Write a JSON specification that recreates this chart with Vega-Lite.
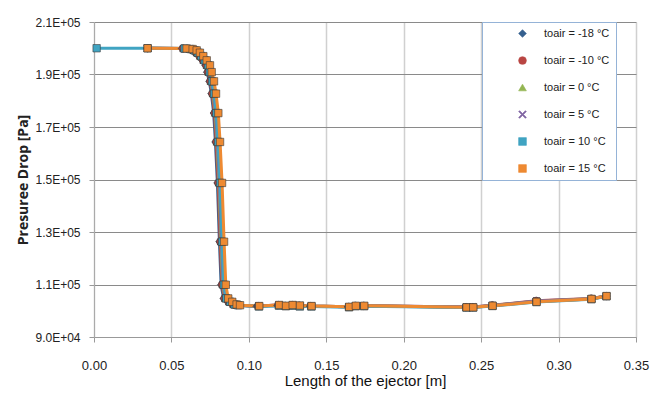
{
  "$schema": "https://vega.github.io/schema/vega-lite/v6.json",
  "width": 542,
  "height": 315,
  "autosize": "none",
  "padding": {"left": 94, "top": 22, "right": 16, "bottom": 69},
  "background": "white",
  "config": {"view": {"stroke": null}, "font": "Liberation Sans"},
  "data": {"values": [
    {"t":"toair = -18 °C","x":0.0346,"y":200000},
    {"t":"toair = -18 °C","x":0.0568,"y":199900},
    {"t":"toair = -18 °C","x":0.0607,"y":199700},
    {"t":"toair = -18 °C","x":0.0633,"y":199200},
    {"t":"toair = -18 °C","x":0.0654,"y":198300},
    {"t":"toair = -18 °C","x":0.0676,"y":197000},
    {"t":"toair = -18 °C","x":0.0698,"y":195400},
    {"t":"toair = -18 °C","x":0.0719,"y":193500},
    {"t":"toair = -18 °C","x":0.0730,"y":190900},
    {"t":"toair = -18 °C","x":0.0745,"y":187400},
    {"t":"toair = -18 °C","x":0.0758,"y":182700},
    {"t":"toair = -18 °C","x":0.0773,"y":175300},
    {"t":"toair = -18 °C","x":0.0784,"y":164300},
    {"t":"toair = -18 °C","x":0.0797,"y":148700},
    {"t":"toair = -18 °C","x":0.0810,"y":126300},
    {"t":"toair = -18 °C","x":0.0821,"y":109900},
    {"t":"toair = -18 °C","x":0.0837,"y":104700},
    {"t":"toair = -18 °C","x":0.0863,"y":103400},
    {"t":"toair = -18 °C","x":0.0891,"y":102400},
    {"t":"toair = -18 °C","x":0.0913,"y":102100},
    {"t":"toair = -18 °C","x":0.1050,"y":101700},
    {"t":"toair = -18 °C","x":0.1185,"y":102000},
    {"t":"toair = -18 °C","x":0.1230,"y":101800},
    {"t":"toair = -18 °C","x":0.1275,"y":102000},
    {"t":"toair = -18 °C","x":0.1320,"y":101900},
    {"t":"toair = -18 °C","x":0.1395,"y":101700},
    {"t":"toair = -18 °C","x":0.1640,"y":101500},
    {"t":"toair = -18 °C","x":0.1685,"y":101800},
    {"t":"toair = -18 °C","x":0.1740,"y":101800},
    {"t":"toair = -18 °C","x":0.2400,"y":101300},
    {"t":"toair = -18 °C","x":0.2445,"y":101300},
    {"t":"toair = -18 °C","x":0.2570,"y":101900},
    {"t":"toair = -18 °C","x":0.2855,"y":103500},
    {"t":"toair = -18 °C","x":0.3210,"y":104500},
    {"t":"toair = -18 °C","x":0.3305,"y":105500},

    {"t":"toair = -10 °C","x":0.0346,"y":200000},
    {"t":"toair = -10 °C","x":0.0573,"y":199900},
    {"t":"toair = -10 °C","x":0.0612,"y":199700},
    {"t":"toair = -10 °C","x":0.0638,"y":199200},
    {"t":"toair = -10 °C","x":0.0659,"y":198300},
    {"t":"toair = -10 °C","x":0.0681,"y":197000},
    {"t":"toair = -10 °C","x":0.0703,"y":195400},
    {"t":"toair = -10 °C","x":0.0724,"y":193500},
    {"t":"toair = -10 °C","x":0.0735,"y":190900},
    {"t":"toair = -10 °C","x":0.0750,"y":187400},
    {"t":"toair = -10 °C","x":0.0763,"y":182700},
    {"t":"toair = -10 °C","x":0.0778,"y":175300},
    {"t":"toair = -10 °C","x":0.0789,"y":164300},
    {"t":"toair = -10 °C","x":0.0802,"y":148700},
    {"t":"toair = -10 °C","x":0.0815,"y":126300},
    {"t":"toair = -10 °C","x":0.0826,"y":109900},
    {"t":"toair = -10 °C","x":0.0842,"y":104700},
    {"t":"toair = -10 °C","x":0.0868,"y":103400},
    {"t":"toair = -10 °C","x":0.0896,"y":102400},
    {"t":"toair = -10 °C","x":0.0918,"y":102100},
    {"t":"toair = -10 °C","x":0.1060,"y":101800},
    {"t":"toair = -10 °C","x":0.1190,"y":102200},
    {"t":"toair = -10 °C","x":0.1235,"y":101900},
    {"t":"toair = -10 °C","x":0.1280,"y":102200},
    {"t":"toair = -10 °C","x":0.1325,"y":102000},
    {"t":"toair = -10 °C","x":0.1400,"y":101800},
    {"t":"toair = -10 °C","x":0.1645,"y":101500},
    {"t":"toair = -10 °C","x":0.1688,"y":101900},
    {"t":"toair = -10 °C","x":0.1742,"y":101900},
    {"t":"toair = -10 °C","x":0.2403,"y":101400},
    {"t":"toair = -10 °C","x":0.2447,"y":101400},
    {"t":"toair = -10 °C","x":0.2572,"y":102100},
    {"t":"toair = -10 °C","x":0.2856,"y":103800},
    {"t":"toair = -10 °C","x":0.3211,"y":104700},
    {"t":"toair = -10 °C","x":0.3308,"y":105600},

    {"t":"toair = 0 °C","x":0.0346,"y":200000},
    {"t":"toair = 0 °C","x":0.0578,"y":199900},
    {"t":"toair = 0 °C","x":0.0617,"y":199700},
    {"t":"toair = 0 °C","x":0.0643,"y":199200},
    {"t":"toair = 0 °C","x":0.0664,"y":198300},
    {"t":"toair = 0 °C","x":0.0686,"y":197000},
    {"t":"toair = 0 °C","x":0.0708,"y":195400},
    {"t":"toair = 0 °C","x":0.0729,"y":193500},
    {"t":"toair = 0 °C","x":0.0740,"y":190900},
    {"t":"toair = 0 °C","x":0.0755,"y":187400},
    {"t":"toair = 0 °C","x":0.0768,"y":182700},
    {"t":"toair = 0 °C","x":0.0783,"y":175300},
    {"t":"toair = 0 °C","x":0.0794,"y":164300},
    {"t":"toair = 0 °C","x":0.0807,"y":148700},
    {"t":"toair = 0 °C","x":0.0820,"y":126300},
    {"t":"toair = 0 °C","x":0.0831,"y":109900},
    {"t":"toair = 0 °C","x":0.0847,"y":104700},
    {"t":"toair = 0 °C","x":0.0873,"y":103400},
    {"t":"toair = 0 °C","x":0.0901,"y":102400},
    {"t":"toair = 0 °C","x":0.0923,"y":102100},
    {"t":"toair = 0 °C","x":0.1062,"y":101800},
    {"t":"toair = 0 °C","x":0.1192,"y":102100},
    {"t":"toair = 0 °C","x":0.1236,"y":101900},
    {"t":"toair = 0 °C","x":0.1280,"y":102100},
    {"t":"toair = 0 °C","x":0.1327,"y":102000},
    {"t":"toair = 0 °C","x":0.1402,"y":101800},
    {"t":"toair = 0 °C","x":0.1646,"y":101500},
    {"t":"toair = 0 °C","x":0.1689,"y":101900},
    {"t":"toair = 0 °C","x":0.1743,"y":101900},
    {"t":"toair = 0 °C","x":0.2404,"y":101300},
    {"t":"toair = 0 °C","x":0.2448,"y":101300},
    {"t":"toair = 0 °C","x":0.2573,"y":102000},
    {"t":"toair = 0 °C","x":0.2857,"y":103600},
    {"t":"toair = 0 °C","x":0.3212,"y":104600},
    {"t":"toair = 0 °C","x":0.3309,"y":105600},

    {"t":"toair = 5 °C","x":0.0346,"y":200000},
    {"t":"toair = 5 °C","x":0.0581,"y":199900},
    {"t":"toair = 5 °C","x":0.0620,"y":199700},
    {"t":"toair = 5 °C","x":0.0646,"y":199200},
    {"t":"toair = 5 °C","x":0.0667,"y":198300},
    {"t":"toair = 5 °C","x":0.0689,"y":197000},
    {"t":"toair = 5 °C","x":0.0711,"y":195400},
    {"t":"toair = 5 °C","x":0.0732,"y":193500},
    {"t":"toair = 5 °C","x":0.0743,"y":190900},
    {"t":"toair = 5 °C","x":0.0758,"y":187400},
    {"t":"toair = 5 °C","x":0.0771,"y":182700},
    {"t":"toair = 5 °C","x":0.0786,"y":175300},
    {"t":"toair = 5 °C","x":0.0797,"y":164300},
    {"t":"toair = 5 °C","x":0.0810,"y":148700},
    {"t":"toair = 5 °C","x":0.0823,"y":126300},
    {"t":"toair = 5 °C","x":0.0834,"y":109900},
    {"t":"toair = 5 °C","x":0.0850,"y":104700},
    {"t":"toair = 5 °C","x":0.0876,"y":103400},
    {"t":"toair = 5 °C","x":0.0904,"y":102400},
    {"t":"toair = 5 °C","x":0.0926,"y":102100},
    {"t":"toair = 5 °C","x":0.1064,"y":101800},
    {"t":"toair = 5 °C","x":0.1194,"y":102200},
    {"t":"toair = 5 °C","x":0.1238,"y":101900},
    {"t":"toair = 5 °C","x":0.1282,"y":102200},
    {"t":"toair = 5 °C","x":0.1328,"y":102000},
    {"t":"toair = 5 °C","x":0.1403,"y":101800},
    {"t":"toair = 5 °C","x":0.1647,"y":101500},
    {"t":"toair = 5 °C","x":0.1690,"y":101900},
    {"t":"toair = 5 °C","x":0.1744,"y":101900},
    {"t":"toair = 5 °C","x":0.2405,"y":101400},
    {"t":"toair = 5 °C","x":0.2448,"y":101400},
    {"t":"toair = 5 °C","x":0.2573,"y":102000},
    {"t":"toair = 5 °C","x":0.2857,"y":103700},
    {"t":"toair = 5 °C","x":0.3212,"y":104600},
    {"t":"toair = 5 °C","x":0.3309,"y":105600},

    {"t":"toair = 10 °C","x":0.0017,"y":200000},
    {"t":"toair = 10 °C","x":0.0346,"y":200000},
    {"t":"toair = 10 °C","x":0.0585,"y":199900},
    {"t":"toair = 10 °C","x":0.0624,"y":199700},
    {"t":"toair = 10 °C","x":0.0650,"y":199200},
    {"t":"toair = 10 °C","x":0.0671,"y":198300},
    {"t":"toair = 10 °C","x":0.0693,"y":197000},
    {"t":"toair = 10 °C","x":0.0715,"y":195400},
    {"t":"toair = 10 °C","x":0.0736,"y":193500},
    {"t":"toair = 10 °C","x":0.0747,"y":190900},
    {"t":"toair = 10 °C","x":0.0762,"y":187400},
    {"t":"toair = 10 °C","x":0.0775,"y":182700},
    {"t":"toair = 10 °C","x":0.0790,"y":175300},
    {"t":"toair = 10 °C","x":0.0801,"y":164300},
    {"t":"toair = 10 °C","x":0.0814,"y":148700},
    {"t":"toair = 10 °C","x":0.0827,"y":126300},
    {"t":"toair = 10 °C","x":0.0838,"y":109900},
    {"t":"toair = 10 °C","x":0.0854,"y":104700},
    {"t":"toair = 10 °C","x":0.0880,"y":103400},
    {"t":"toair = 10 °C","x":0.0908,"y":102400},
    {"t":"toair = 10 °C","x":0.0930,"y":102100},
    {"t":"toair = 10 °C","x":0.1065,"y":101600},
    {"t":"toair = 10 °C","x":0.1195,"y":101900},
    {"t":"toair = 10 °C","x":0.1239,"y":101700},
    {"t":"toair = 10 °C","x":0.1282,"y":101900},
    {"t":"toair = 10 °C","x":0.1329,"y":101600},
    {"t":"toair = 10 °C","x":0.1404,"y":101600},
    {"t":"toair = 10 °C","x":0.1647,"y":101300},
    {"t":"toair = 10 °C","x":0.1690,"y":101700},
    {"t":"toair = 10 °C","x":0.1744,"y":101700},
    {"t":"toair = 10 °C","x":0.2405,"y":101200},
    {"t":"toair = 10 °C","x":0.2448,"y":101200},
    {"t":"toair = 10 °C","x":0.2573,"y":101800},
    {"t":"toair = 10 °C","x":0.2857,"y":103300},
    {"t":"toair = 10 °C","x":0.3212,"y":104400},
    {"t":"toair = 10 °C","x":0.3309,"y":105500},

    {"t":"toair = 15 °C","x":0.0346,"y":200000},
    {"t":"toair = 15 °C","x":0.0598,"y":199900},
    {"t":"toair = 15 °C","x":0.0637,"y":199700},
    {"t":"toair = 15 °C","x":0.0663,"y":199200},
    {"t":"toair = 15 °C","x":0.0684,"y":198300},
    {"t":"toair = 15 °C","x":0.0706,"y":197000},
    {"t":"toair = 15 °C","x":0.0728,"y":195400},
    {"t":"toair = 15 °C","x":0.0749,"y":193500},
    {"t":"toair = 15 °C","x":0.0760,"y":190900},
    {"t":"toair = 15 °C","x":0.0775,"y":187400},
    {"t":"toair = 15 °C","x":0.0788,"y":182700},
    {"t":"toair = 15 °C","x":0.0803,"y":175300},
    {"t":"toair = 15 °C","x":0.0814,"y":164300},
    {"t":"toair = 15 °C","x":0.0827,"y":148700},
    {"t":"toair = 15 °C","x":0.0840,"y":126300},
    {"t":"toair = 15 °C","x":0.0851,"y":109900},
    {"t":"toair = 15 °C","x":0.0867,"y":104700},
    {"t":"toair = 15 °C","x":0.0893,"y":103400},
    {"t":"toair = 15 °C","x":0.0921,"y":102400},
    {"t":"toair = 15 °C","x":0.0943,"y":102100},
    {"t":"toair = 15 °C","x":0.1067,"y":101800},
    {"t":"toair = 15 °C","x":0.1196,"y":102200},
    {"t":"toair = 15 °C","x":0.1240,"y":101900},
    {"t":"toair = 15 °C","x":0.1283,"y":102200},
    {"t":"toair = 15 °C","x":0.1330,"y":102000},
    {"t":"toair = 15 °C","x":0.1405,"y":101800},
    {"t":"toair = 15 °C","x":0.1648,"y":101500},
    {"t":"toair = 15 °C","x":0.1691,"y":101900},
    {"t":"toair = 15 °C","x":0.1745,"y":101900},
    {"t":"toair = 15 °C","x":0.2406,"y":101300},
    {"t":"toair = 15 °C","x":0.2449,"y":101300},
    {"t":"toair = 15 °C","x":0.2574,"y":101900},
    {"t":"toair = 15 °C","x":0.2858,"y":103400},
    {"t":"toair = 15 °C","x":0.3213,"y":104500},
    {"t":"toair = 15 °C","x":0.3310,"y":105600}
  ]},
  "encoding": {
    "x": {
      "field": "x", "type": "quantitative",
      "scale": {"domain": [0, 0.35], "nice": false, "zero": false},
      "axis": {
        "title": "Length of the ejector [m]",
        "values": [0, 0.05, 0.1, 0.15, 0.2, 0.25, 0.3, 0.35],
        "format": ".2f",
        "labelFlush": false, "labelOverlap": false,
        "labelFont": "Liberation Sans", "labelFontSize": 13, "labelColor": "#222",
        "labelPadding": 17,
        "tickSize": 5, "tickColor": "#999",
        "domainColor": "#999",
        "gridColor": "#d0d0d0", "gridWidth": 1.5,
        "titleFont": "Liberation Sans", "titleFontSize": 15, "titleFontWeight": "normal",
        "titleColor": "#111", "titlePadding": 1
      }
    },
    "y": {
      "field": "y", "type": "quantitative",
      "scale": {"domain": [90000, 210000], "nice": false, "zero": false},
      "axis": {
        "title": "Presuree Drop [Pa]",
        "values": [90000, 110000, 130000, 150000, 170000, 190000, 210000],
        "labelExpr": "replace(upper(format(datum.value, '.1e')), '+', '+0')",
        "labelFlush": false, "labelOverlap": false,
        "labelFont": "Liberation Sans", "labelFontSize": 12, "labelColor": "#222",
        "labelPadding": 9,
        "tickSize": 5, "tickColor": "#999",
        "domainColor": "#aaa",
        "gridColor": "#8a8a8a", "gridWidth": 1,
        "titleFont": "Open Sans", "titleFontSize": 14, "titleFontWeight": "bold",
        "titleColor": "#222", "titlePadding": 4
      }
    },
    "color": {
      "field": "t", "type": "nominal",
      "scale": {
        "domain": ["toair = -18 °C", "toair = -10 °C", "toair = 0 °C", "toair = 5 °C", "toair = 10 °C", "toair = 15 °C"],
        "range": ["#35608F", "#B94542", "#93B552", "#8064A2", "#40A4C2", "#EE8A32"]
      },
      "legend": {
        "title": null, "orient": "none", "legendX": 388, "legendY": 0,
        "padding": 6, "rowPadding": 15, "symbolOffset": 29, "labelOffset": 16,
        "labelFont": "Liberation Sans", "labelFontSize": 11, "labelColor": "#222",
        "strokeColor": "#95B3D7", "fillColor": "white",
        "symbolSize": 60, "symbolStrokeWidth": 0.6,
        "labelExpr": "datum.label + '\u00a0\u00a0\u00a0\u00a0\u00a0\u00a0\u00a0'"
      }
    }
  },
  "layer": [
    {
      "mark": {"type": "line", "strokeWidth": 3}
    },
    {
      "mark": {"type": "point", "filled": true, "size": 55, "opacity": 1, "stroke": "#3a3a3a", "strokeWidth": 0.6},
      "encoding": {
        "shape": {
          "field": "t", "type": "nominal",
          "scale": {
            "domain": ["toair = -18 °C", "toair = -10 °C", "toair = 0 °C", "toair = 5 °C", "toair = 10 °C", "toair = 15 °C"],
            "range": ["diamond", "circle", "triangle-up", "M-1,-0.75L-0.75,-1L0,-0.25L0.75,-1L1,-0.75L0.25,0L1,0.75L0.75,1L0,0.25L-0.75,1L-1,0.75L-0.25,0Z", "square", "square"]
          },
          "legend": {
            "title": null, "orient": "none", "legendX": 388, "legendY": 0,
            "padding": 6, "rowPadding": 15, "symbolOffset": 29, "labelOffset": 16,
            "labelFont": "Liberation Sans", "labelFontSize": 11, "labelColor": "#222",
            "strokeColor": "#95B3D7", "fillColor": "white",
            "symbolSize": 60, "symbolStrokeWidth": 0.6,
            "labelExpr": "datum.label + '\u00a0\u00a0\u00a0\u00a0\u00a0\u00a0\u00a0'"
          }
        }
      }
    }
  ]
}
